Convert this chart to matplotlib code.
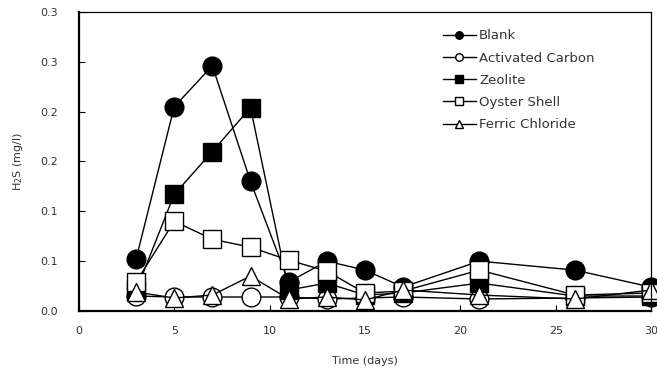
import matplotlib.pyplot as plt

# data
days = [3, 5, 7, 9, 11, 13, 15, 17, 21, 26, 30]
blank = [0.052, 0.205, 0.246, 0.130, 0.029, 0.050, 0.041, 0.024, 0.050, 0.041, 0.024]
activated_carbon = [0.015, 0.014, 0.014, 0.014, 0.014, 0.012, 0.013, 0.014, 0.012, 0.013, 0.014]
zeolite = [0.020, 0.117, 0.160, 0.204, 0.021, 0.028, 0.016, 0.018, 0.028, 0.015, 0.015]
oyster_shell = [0.029, 0.090, 0.072, 0.064, 0.051, 0.040, 0.018, 0.020, 0.041, 0.016, 0.018]
ferric_chloride = [0.019, 0.013, 0.016, 0.035, 0.012, 0.014, 0.011, 0.021, 0.016, 0.012, 0.021]

xticks = [0, 5, 10, 15, 20, 25, 30]
yticks = [0.0, 0.05, 0.10, 0.15, 0.20, 0.25, 0.30]
ytick_labels = ['0.0', '0.1', '0.1', '0.2', '0.2', '0.3', '0.3']

fig = plt.figure(figsize=(6.57, 3.76), dpi=100)
ax = fig.add_axes([0.120, 0.173, 0.871, 0.795])

ms = 13.5
series = [
    (blank, 'o', 'black', 'Blank'),
    (activated_carbon, 'o', 'white', 'Activated Carbon'),
    (zeolite, 's', 'black', 'Zeolite'),
    (oyster_shell, 's', 'white', 'Oyster Shell'),
    (ferric_chloride, '^', 'white', 'Ferric Chloride'),
]
for vals, mk, fc, lab in series:
    ax.plot(days, vals, color='black', linewidth=1, marker=mk, markersize=ms,
            markerfacecolor=fc, markeredgecolor='black', markeredgewidth=1,
            label=lab, clip_on=False)

ax.set_xlim(0, 30)
ax.set_ylim(0, 0.3)
ax.set_xticks(xticks)
ax.set_yticks(yticks)
ax.set_yticklabels(ytick_labels)
ax.tick_params(direction='in', length=4, width=0.8, labelsize=8, labelcolor='#333333')
ax.tick_params(axis='x', pad=11)
ax.tick_params(axis='y', pad=28)
for lab in ax.get_yticklabels():
    lab.set_horizontalalignment('left')

for s in ['left', 'bottom']:
    ax.spines[s].set_linewidth(1.6)
for s in ['top', 'right']:
    ax.spines[s].set_linewidth(0.9)

ax.set_xlabel('Time (days)', fontsize=8, color='#333333', labelpad=14)
ax.set_ylabel(r'H$_2$S (mg/l)', fontsize=8, color='#333333', labelpad=11)

leg = ax.legend(loc='upper left', bbox_to_anchor=(0.636, 0.942), frameon=False,
                borderaxespad=0, borderpad=0,
                fontsize=9.5, markerscale=0.4, handlelength=2.5, handletextpad=0.25,
                labelspacing=0.7)
for t in leg.get_texts():
    t.set_color('#333333')

fig.savefig('out.png', dpi=100)
